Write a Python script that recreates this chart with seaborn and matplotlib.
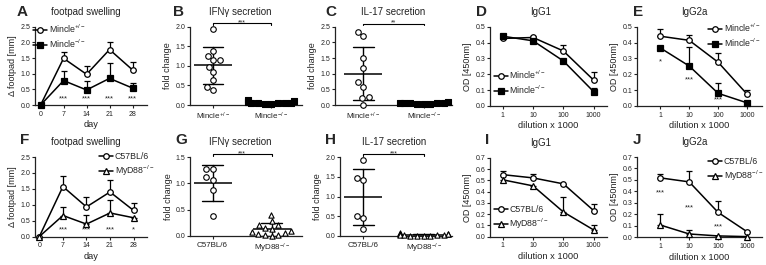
import numpy as np
import pandas as pd
import matplotlib
matplotlib.use('Agg')
import matplotlib.pyplot as plt
from matplotlib.ticker import FormatStrFormatter, NullLocator
import seaborn as sns

# ---- dados ----
days = [0, 7, 14, 21, 28]
dil = [1, 10, 100, 1000]

# A - footpad Mincle
a_het = [0, 1.49, 0.98, 1.77, 1.12]
a_het_up = [0, 1.70, 1.23, 2.01, 1.38]
a_ko = [0, 0.78, 0.48, 0.85, 0.54]
a_ko_up = [0, 1.07, 0.78, 1.33, 0.71]
a_stars = ['', '***', '***', '***', '***']

# B - IFNg Mincle
b_het = [1.94, 1.38, 1.25, 1.14, 1.14, 0.97, 0.84, 0.63, 0.38, 0.45]
b_ko = [0.12, 0.09, 0.07, 0.06, 0.05, 0.04, 0.05, 0.03, 0.02, 0.06]

# C - IL-17 Mincle
c_het = [2.34, 2.20, 1.49, 1.19, 0.74, 0.59, 0.27, 0.21, 0.0]
c_ko = [0.09, 0.07, 0.06, 0.05, 0.05, 0.04, 0.03, 0.02, 0.06]

# D - IgG1 Mincle
d_het = [0.426, 0.432, 0.347, 0.163]
d_het_up = [0.426, 0.443, 0.385, 0.214]
d_ko = [0.440, 0.411, 0.284, 0.090]
d_ko_up = [0.452, 0.411, 0.284, 0.115]

# E - IgG2a Mincle
e_het = [0.440, 0.414, 0.276, 0.075]
e_het_up = [0.488, 0.450, 0.333, 0.103]
e_ko = [0.366, 0.252, 0.080, 0.020]
e_ko_up = [0.366, 0.370, 0.145, 0.020]
e_stars = ['*', '***', '***']
e_star_y = [0.28, 0.165, 0.04]

# F - footpad MyD88
f_wt = [0, 1.57, 0.93, 1.40, 0.82]
f_wt_up = [0, 1.91, 1.25, 1.78, 1.06]
f_ko = [0, 0.66, 0.39, 0.74, 0.59]
f_ko_up = [0, 0.93, 0.68, 1.15, 0.59]
f_stars = ['', '***', '***', '***', '*']

# G - IFNg MyD88
g_wt = [1.28, 1.28, 1.07, 1.12, 0.87, 0.38]
g_ko = [0.40, 0.28, 0.21, 0.20, 0.15, 0.14, 0.10, 0.08, 0.05, 0.03, 0.01, 0.00, 0.02]

# H - IL-17 MyD88
h_wt = [1.93, 1.43, 1.48, 0.50, 0.46, 0.17]
h_ko = [0.07, 0.05, 0.04, 0.03, 0.03, 0.02, 0.02, 0.01, 0.01, 0.0, 0.0, 0.05]

# I - IgG1 MyD88
i_wt = [0.552, 0.523, 0.470, 0.232]
i_wt_up = [0.580, 0.558, 0.470, 0.292]
i_ko = [0.506, 0.452, 0.220, 0.060]
i_ko_up = [0.506, 0.452, 0.357, 0.100]

# J - IgG2a MyD88
j_wt = [0.518, 0.483, 0.217, 0.049]
j_wt_up = [0.555, 0.578, 0.318, 0.049]
j_ko = [0.107, 0.029, 0.012, 0.006]
j_ko_up = [0.200, 0.064, 0.012, 0.006]
j_stars = ['***', '***', '***']
j_star_y = [0.39, 0.26, 0.095]

lab_het = 'Mincle$^{+/-}$'
lab_ko = 'Mincle$^{-/-}$'
lab_wt = 'C57BL/6'
lab_myd = 'MyD88$^{-/-}$'

# ---- estilo ----
sns.set_style('ticks')
plt.rcParams['font.family'] = ['Liberation Sans', 'DejaVu Sans']
plt.rcParams['mathtext.default'] = 'regular'
plt.rcParams['axes.linewidth'] = 0.9
plt.rcParams['axes.edgecolor'] = '#222222'
plt.rcParams['xtick.major.size'] = 2.5
plt.rcParams['ytick.major.size'] = 2.5
plt.rcParams['xtick.major.width'] = 0.8
plt.rcParams['ytick.major.width'] = 0.8
plt.rcParams['xtick.major.pad'] = 1.5
plt.rcParams['ytick.major.pad'] = 1.0
TXT = '#222222'

W, H = 766, 265
fig = plt.figure(figsize=(W / 100, H / 100), dpi=100)


def add_ax(l, r, t, b):
    return fig.add_axes([l / W, 1 - b / H, (r - l) / W, (b - t) / H])


def style(ax, ymax, ystep, title, tx):
    sns.despine(ax=ax)
    ax.set_ylim(0, ymax)
    ax.set_yticks(np.arange(0, ymax + 1e-9, ystep))
    ax.yaxis.set_major_formatter(FormatStrFormatter('%.1f'))
    ax.tick_params(axis='y', labelsize=5, colors=TXT)
    ax.tick_params(axis='x', labelsize=5, colors=TXT)
    ax.set_title(title, fontsize=7, x=tx, pad=8.5, color=TXT)


fill2 = {'s': 'black', '^': 'white', 'o': 'white'}


def line_panel(ax, x, y1, up1, y2, up2, m1, m2, lab1, lab2):
    for y, up, m, fc, lab in [(y1, up1, m1, 'white', lab1), (y2, up2, m2, fill2[m2], lab2)]:
        y = np.array(y, dtype=float)
        err = np.array(up, dtype=float) - y
        err = np.where(err > 0, err, np.nan)
        ax.errorbar(x, y, yerr=[np.zeros_like(err), err], fmt='none', ecolor='black',
                    elinewidth=0.9, capsize=2.3, capthick=0.9, zorder=2)
        sns.lineplot(x=x, y=y, ax=ax, color='black', marker=m, markersize=4.0,
                     markerfacecolor=fc, markeredgecolor='black', markeredgewidth=0.9,
                     lw=1.1, label=lab, zorder=3, clip_on=False)


def dot_panel(ax, v1, v2, cats, m1, m2, c2):
    df = pd.DataFrame({'grp': [cats[0]] * len(v1) + [cats[1]] * len(v2), 'val': v1 + v2})
    sns.swarmplot(data=df[df.grp == cats[0]], x='grp', y='val', order=cats, marker=m1,
                  size=4.0, color='white', edgecolor='black', linewidth=0.8, ax=ax, clip_on=False)
    sns.swarmplot(data=df[df.grp == cats[1]], x='grp', y='val', order=cats, marker=m2,
                  size=3.8, color=c2, edgecolor='black', linewidth=0.8, ax=ax, clip_on=False)
    sns.pointplot(data=df, x='grp', y='val', order=cats, errorbar='sd', capsize=0.35,
                  color='black', marker='_', markersize=28, markeredgewidth=1.1,
                  linestyle='none', err_kws={'linewidth': 1.0}, ax=ax)
    ax.set_xlabel('')
    ax.set_ylabel('fold change', fontsize=6.5, color=TXT, labelpad=2)


def bracket(ax, y, h, txt):
    ax.plot([0, 0, 1, 1], [y - h, y, y, y - h], color='black', lw=0.8, clip_on=False)
    ax.annotate(txt, (0.5, y), xytext=(0, 0.5), textcoords='offset points',
                ha='center', va='center', fontsize=5, color=TXT, annotation_clip=False)


def legend(ax, fx, fy):
    ax.legend(loc='upper left', bbox_to_anchor=(fx, fy), frameon=False, fontsize=6.3,
              handlelength=1.6, handletextpad=0.2, borderpad=0, borderaxespad=0,
              labelspacing=0.3)


def log_x(ax, lo, hi):
    ax.set_xscale('log')
    ax.set_xlim(lo, hi)
    ax.set_xticks(dil)
    ax.set_xticklabels([str(d) for d in dil])
    ax.xaxis.set_minor_locator(NullLocator())
    ax.set_xlabel('dilution x 1000', fontsize=6.7, color=TXT, labelpad=2)
    ax.set_ylabel('OD [450nm]', fontsize=6.5, color=TXT, labelpad=2)


def day_x(ax, lo, hi):
    ax.set_xlim(lo, hi)
    ax.set_xticks(days)
    ax.set_xlabel('day', fontsize=6.7, color=TXT, labelpad=2)
    ax.set_ylabel('\u0394 footpad [mm]', fontsize=6.5, color=TXT, labelpad=2)


# ---- linha 1 ----
axA = add_ax(35, 147, 26.7, 105)
line_panel(axA, days, a_het, a_het_up, a_ko, a_ko_up, 'o', 's', lab_het, lab_ko)
style(axA, 2.5, 0.5, 'footpad swelling', 0.45)
day_x(axA, -1.7, 32.4)
for d, s in zip(days, a_stars):
    axA.text(d, 0.2, s, ha='center', va='center', fontsize=5.5, color=TXT)
legend(axA, -0.02, 1.05)

axB = add_ax(190, 302, 26.7, 105)
dot_panel(axB, b_het, b_ko, ['het', 'ko'], 'o', 's', 'black')
style(axB, 2.0, 0.5, 'IFN\u03b3 secretion', 0.45)
axB.set_xlim(-0.4, 1.53)
axB.set_xticks([0, 1])
axB.set_xticklabels([lab_het, lab_ko], fontsize=5.8)
bracket(axB, 2.09, 0.04, '***')

axC = add_ax(335, 452, 26.7, 105)
dot_panel(axC, c_het, c_ko, ['het', 'ko'], 'o', 's', 'black')
style(axC, 2.5, 0.5, 'IL-17 secretion', 0.5)
axC.set_xlim(-0.47, 1.47)
axC.set_xticks([0, 1])
axC.set_xticklabels([lab_het, lab_ko], fontsize=5.8)
bracket(axC, 2.6, 0.05, '**')

axD = add_ax(490, 607, 26.7, 106)
line_panel(axD, dil, d_het, d_het_up, d_ko, d_ko_up, 'o', 's', lab_het, lab_ko)
style(axD, 0.5, 0.1, 'IgG1', 0.43)
log_x(axD, 0.38, 2750)
legend(axD, 0.03, 0.47)

axE = add_ax(637, 762, 26.7, 106)
line_panel(axE, dil, e_het, e_het_up, e_ko, e_ko_up, 'o', 's', lab_het, lab_ko)
style(axE, 0.5, 0.1, 'IgG2a', 0.46)
log_x(axE, 0.156, 3300)
for d, s, yy in zip(dil, e_stars, e_star_y):
    axE.text(d, yy, s, ha='center', va='center', fontsize=5.5, color=TXT)
legend(axE, 0.57, 1.06)

# ---- linha 2 ----
axF = add_ax(35, 147, 157, 236.5)
line_panel(axF, days, f_wt, f_wt_up, f_ko, f_ko_up, 'o', '^', lab_wt, lab_myd)
style(axF, 2.5, 0.5, 'footpad swelling', 0.45)
day_x(axF, -1.3, 32)
for d, s in zip(days, f_stars):
    axF.text(d, 0.22, s, ha='center', va='center', fontsize=5.5, color=TXT)
legend(axF, 0.57, 1.06)

axG = add_ax(190, 302, 157, 236)
dot_panel(axG, g_wt, g_ko, ['wt', 'ko'], 'o', '^', 'white')
style(axG, 1.5, 0.5, 'IFN\u03b3 secretion', 0.45)
axG.set_xlim(-0.38, 1.51)
axG.set_xticks([0, 1])
axG.set_xticklabels([lab_wt, lab_myd], fontsize=5.8)
bracket(axG, 1.55, 0.03, '***')

axH = add_ax(340, 452, 157, 236)
dot_panel(axH, h_wt, h_ko, ['wt', 'ko'], 'o', '^', 'white')
style(axH, 2.0, 0.5, 'IL-17 secretion', 0.48)
axH.set_xlim(-0.39, 1.47)
axH.set_xticks([0, 1])
axH.set_xticklabels([lab_wt, lab_myd], fontsize=5.8)
bracket(axH, 2.07, 0.04, '***')

axI = add_ax(490, 607, 158, 236.7)
line_panel(axI, dil, i_wt, i_wt_up, i_ko, i_ko_up, 'o', '^', lab_wt, lab_myd)
style(axI, 0.7, 0.1, 'IgG1', 0.43)
log_x(axI, 0.38, 2750)
legend(axI, 0.03, 0.40)

axJ = add_ax(637, 762, 157, 237.3)
line_panel(axJ, dil, j_wt, j_wt_up, j_ko, j_ko_up, 'o', '^', lab_wt, lab_myd)
style(axJ, 0.7, 0.1, 'IgG2a', 0.46)
log_x(axJ, 0.156, 3300)
for d, s, yy in zip(dil, j_stars, j_star_y):
    axJ.text(d, yy, s, ha='center', va='center', fontsize=5.5, color=TXT)
legend(axJ, 0.57, 1.0)

# letras dos painéis
letters = [('A', 17, 12), ('B', 173, 12), ('C', 325, 12), ('D', 476, 12), ('E', 633, 12),
           ('F', 20, 140), ('G', 175, 140), ('H', 325, 140), ('I', 485, 140), ('J', 633, 140)]
for s, x, y in letters:
    fig.text(x / W, 1 - y / H, s, fontsize=11, fontweight='bold', ha='left', va='center')

fig.savefig('out.png', dpi=100)
